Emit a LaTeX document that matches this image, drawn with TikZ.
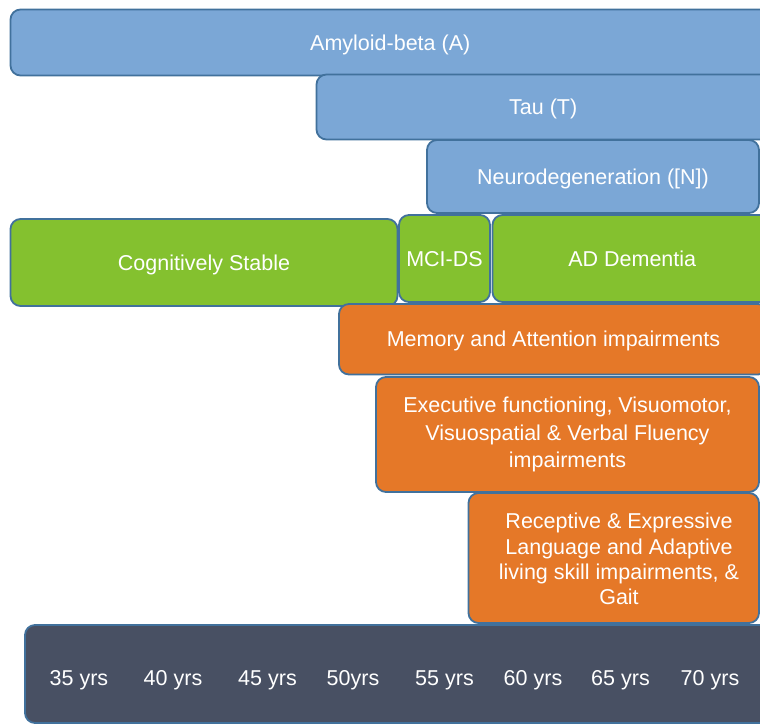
\documentclass[tikz,border=0pt]{standalone}
\usepackage{fontspec}
\setmainfont{Liberation Sans}
\definecolor{edgeblue}{HTML}{41719C}
\definecolor{bioblue}{HTML}{7BA7D6}
\definecolor{stagegreen}{HTML}{84C12F}
\definecolor{impairorange}{HTML}{E57828}
\definecolor{ageslate}{HTML}{485063}
\begin{document}
\begin{tikzpicture}[x=1pt,y=-1pt,
  panel/.style={draw=edgeblue, line width=1.8pt, rounded corners=10pt,
    text=white, inner sep=0pt, align=center,
    font=\fontsize{21.5}{26}\selectfont},
  % single-line labels: centre the capitals on the box centre
  oneline/.style={text height=16.1pt, text depth=0.7pt},
  biobox/.style={panel, oneline, fill=bioblue},
  stagebox/.style={panel, oneline, fill=stagegreen},
  impairbox/.style={panel, fill=impairorange},
  agebox/.style={panel, fill=ageslate},
  plaintext/.style={text=white, inner sep=0pt, align=center},
  agelabel/.style={text=white, inner sep=0pt, anchor=base,
    font=\fontsize{21.5}{26}\selectfont}]
\useasboundingbox (0,0) rectangle (760,724);
\clip (0,0) rectangle (760,724);

% biomarker bands
\node[biobox, minimum width=759.5pt, minimum height=66pt] (amyloid) at (390.25,42.5) {Amyloid-beta (A)};
\node[biobox, minimum width=453.5pt, minimum height=65pt] (tau) at (543.25,107) {Tau (T)};
\node[biobox, minimum width=332pt, minimum height=73pt] (neuro) at (593,176.5) {Neurodegeneration ([N])};

% clinical stages
\node[stagebox, minimum width=387pt, minimum height=87pt] (stable) at (204,262.5) {Cognitively Stable};
\node[stagebox, minimum width=91pt, minimum height=87pt] (mci) at (444.5,258.5) {MCI-DS};
\node[stagebox, minimum width=279.5pt, minimum height=87pt] (dementia) at (632.25,258.5) {AD Dementia};

% cognitive and functional impairments
\node[impairbox, oneline, minimum width=429pt, minimum height=70.5pt] (memory) at (553.5,339.25) {Memory and Attention impairments};
\node[impairbox, minimum width=383pt, minimum height=115pt,
  font=\fontsize{21.5}{27.5}\selectfont] (exec) at (567.5,434.5)
  {Executive functioning, Visuomotor,\\Visuospatial \& Verbal Fluency\\impairments};
\node[impairbox, minimum width=290.5pt, minimum height=130pt] (language) at (613.75,558) {};
\node[plaintext, font=\fontsize{21.5}{25.3}\selectfont] (languagetext) at (619,559)
  {Receptive \& Expressive\\Language and Adaptive\\living skill impairments, \&\\Gait};

% age axis
\node[agebox, minimum width=750pt, minimum height=98pt] (ages) at (400,674) {};
\node[agelabel] (a35) at (79,685) {35 yrs};
\node[agelabel] (a40) at (173,685) {40 yrs};
\node[agelabel] (a45) at (267.5,685) {45 yrs};
\node[agelabel] (a50) at (353,685) {50yrs};
\node[agelabel] (a55) at (444.5,685) {55 yrs};
\node[agelabel] (a60) at (533,685) {60 yrs};
\node[agelabel] (a65) at (620.5,685) {65 yrs};
\node[agelabel] (a70) at (710,685) {70 yrs};
\end{tikzpicture}
\end{document}
